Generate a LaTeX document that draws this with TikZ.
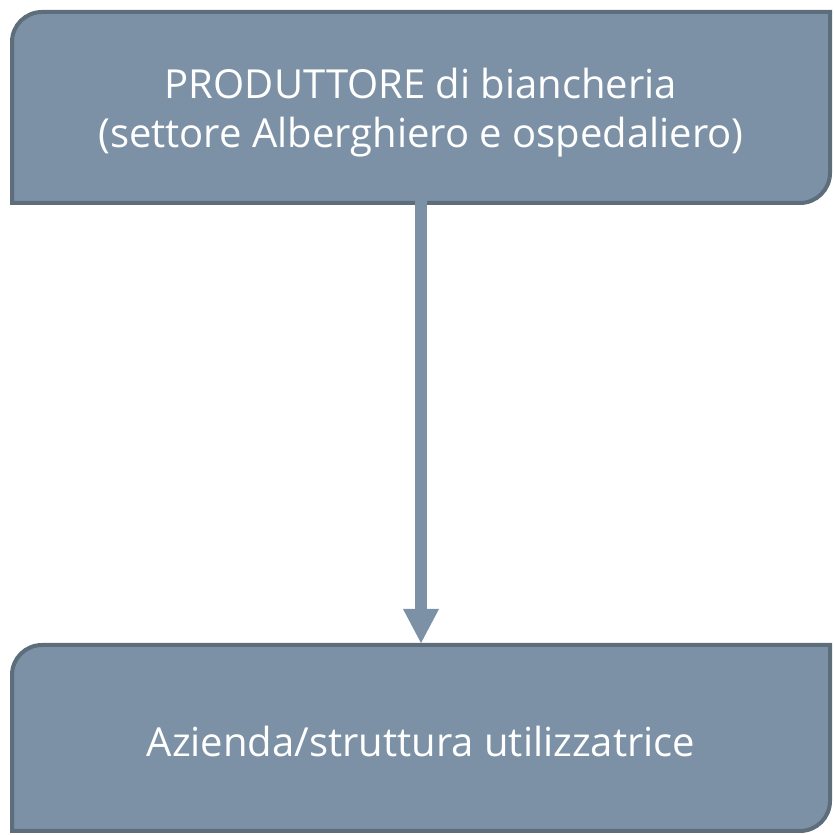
\documentclass[tikz,border=0pt]{standalone}
\usepackage{fontspec}
\setmainfont{Open Sans}
\usetikzlibrary{arrows.meta,positioning,backgrounds}
\definecolor{boxfill}{HTML}{7C91A5}
\definecolor{boxedge}{HTML}{5D6D7B}

\begin{document}
\begin{tikzpicture}[x=1pt, y=1pt, node distance=442pt,
    every node/.style={text=white, font=\fontsize{40}{49}\selectfont},
    box/.style={minimum width=818pt, minimum height=191pt, inner sep=0pt, outer sep=0pt, align=center},
    boxshape/.style={fill=boxfill, draw=boxedge, line width=4pt},
    flow/.style={-{Triangle[length=34pt,width=36pt,line width=0pt,fill=boxfill]}, color=boxfill, line width=12pt}
    ]
\useasboundingbox (0,0) rectangle (833,835);
\node[box] (prod) at (421,727.5) {\rule{0pt}{40pt}PRODUTTORE di biancheria\\(settore Alberghiero e ospedaliero)};
\node[box, minimum height=186pt] (azienda) [below=of prod] {\rule{0pt}{38pt}Azienda/struttura utilizzatrice};

% boxes with two rounded corners
\begin{scope}[on background layer]
\foreach \n in {prod,azienda}
  \draw[boxshape] (\n.south west) [rounded corners=30pt]-- (\n.north west) [sharp corners]-- (\n.north east)
    [rounded corners=30pt]-- (\n.south east) [sharp corners]-- cycle;
\end{scope}

\path[flow, shorten <=-25pt, shorten >=2pt] (prod) edge (azienda);
\end{tikzpicture}
\end{document}
